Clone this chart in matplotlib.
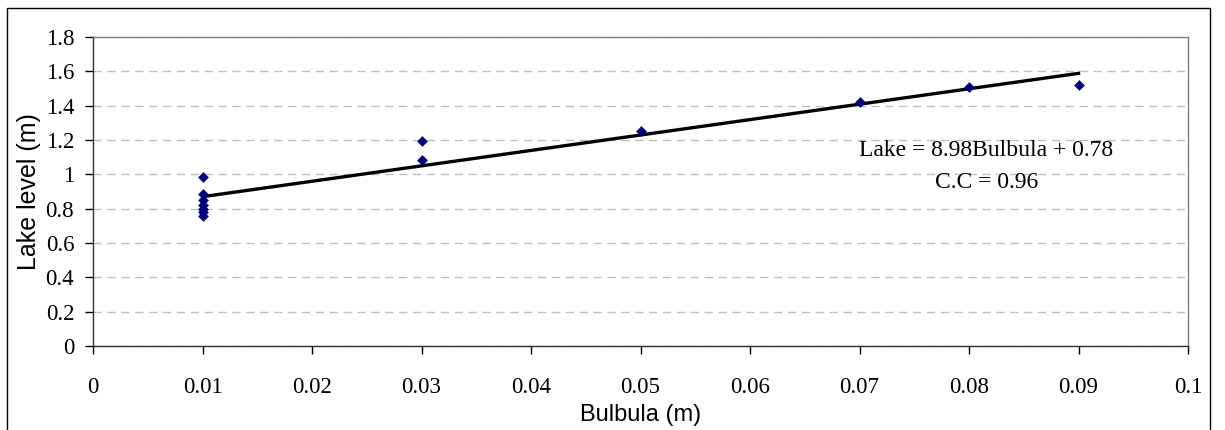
import matplotlib
matplotlib.use("Agg")
import matplotlib.pyplot as plt
from matplotlib.patches import Rectangle
from matplotlib.ticker import FuncFormatter
import numpy as np

# Data
bulbula = [0.01, 0.01, 0.01, 0.01, 0.01, 0.01, 0.01,
           0.03, 0.03, 0.05, 0.07, 0.08, 0.09]
lake = [0.985, 0.885, 0.85, 0.82, 0.80, 0.78, 0.757,
        1.196, 1.085, 1.254, 1.42, 1.51, 1.52]
slope = 8.98
intercept = 0.78
eq_text = "Lake = 8.98Bulbula + 0.78"
cc_text = "C.C = 0.96"
x_ticks = [0, 0.01, 0.02, 0.03, 0.04, 0.05, 0.06, 0.07, 0.08, 0.09, 0.1]
y_ticks = [0, 0.2, 0.4, 0.6, 0.8, 1.0, 1.2, 1.4, 1.6, 1.8]
x_label = "Bulbula (m)"
y_label = "Lake level (m)"

serif = ["Liberation Serif", "DejaVu Serif"]
sans = ["Liberation Sans", "DejaVu Sans"]

fig = plt.figure(figsize=(12.25, 4.30), dpi=100)
ax = fig.add_axes([93 / 1225, 1 - 346 / 430, (1188 - 93) / 1225, (346 - 37) / 430])

# Outer chart border (bottom edge lies outside the image)
fig.patches.append(Rectangle((7 / 1225, -0.05), (1210 - 7) / 1225, 1.05 - 8 / 430,
                             transform=fig.transFigure, fill=False,
                             edgecolor="black", linewidth=1.0))

ax.set_xlim(0, 0.1)
ax.set_ylim(0, 1.8)
ax.set_xticks(x_ticks)
ax.set_yticks(y_ticks)

fmt = FuncFormatter(lambda v, p: ("%g" % round(v, 4)))
ax.xaxis.set_major_formatter(fmt)
ax.yaxis.set_major_formatter(fmt)

for lab in ax.get_xticklabels() + ax.get_yticklabels():
    lab.set_fontfamily(serif)
    lab.set_fontsize(16.5)

ax.tick_params(axis="both", direction="out", length=5.5, width=1, colors="black")
ax.tick_params(axis="x", pad=16.5)
ax.tick_params(axis="y", pad=8)

ax.yaxis.grid(True, linestyle=(0, (6, 4)), color="#c0c0c0", linewidth=1)
ax.set_axisbelow(True)

for s in ["top", "right"]:
    ax.spines[s].set_color("#808080")
    ax.spines[s].set_linewidth(1)
for s in ["left", "bottom"]:
    ax.spines[s].set_color("#303030")
    ax.spines[s].set_linewidth(1)

# Trend line
xl = np.array([min(bulbula), max(bulbula)])
ax.plot(xl, slope * xl + intercept, color="black", linewidth=2.4, zorder=3)

# Data points
ax.scatter(bulbula, lake, marker="D", s=30, color="#000080", zorder=4, linewidths=0)

ax.set_xlabel(x_label, fontfamily=sans, fontsize=17, labelpad=5)
ax.set_ylabel(y_label, fontfamily=sans, fontsize=18, labelpad=3)

ax.text(0.0816, 1.14, eq_text, fontfamily=serif, fontsize=17,
        ha="center", va="center")
ax.text(0.0816, 0.955, cc_text, fontfamily=serif, fontsize=17,
        ha="center", va="center")

fig.savefig("out.png", dpi=100)
